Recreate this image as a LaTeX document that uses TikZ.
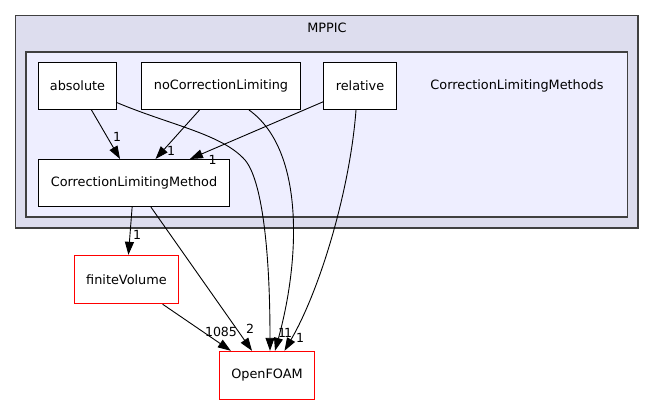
\documentclass[tikz,border=0pt]{standalone}
\usepackage{fontspec}
\setmainfont{DejaVu Sans}
\usetikzlibrary{arrows.meta}
\definecolor{outerfill}{HTML}{DDDDEE}
\definecolor{innerfill}{HTML}{EEEEFF}
\definecolor{clusterline}{HTML}{404040}
\tikzset{
  dirbox/.style={draw=black, fill=white, line width=1bp, minimum height=47bp, inner sep=0pt, font=\fontsize{12.9}{15}\selectfont},
  extbox/.style={draw=red, fill=white, line width=1.4bp, minimum height=48bp, inner sep=0pt, font=\fontsize{12.9}{15}\selectfont},
  dep/.style={draw=black, line width=0.9bp, -{Triangle[length=13bp,width=9bp]}},
  lbl/.style={inner sep=0pt, font=\fontsize{12.6}{15}\selectfont},
  ttl/.style={inner sep=0pt, font=\fontsize{12.9}{15}\selectfont}
}
\begin{document}
\begin{tikzpicture}[x=1bp,y=-1bp]
\useasboundingbox (0,0) rectangle (655,404);
\fill[white] (0,0) rectangle (655,404);
% clusters
\draw[fill=outerfill, draw=clusterline, line width=1.3bp] (15.5,15.5) rectangle (638,228);
\node[ttl] (mppic) at (327,28) {MPPIC};
\draw[fill=innerfill, draw=clusterline, line width=1.3bp] (26,52) rectangle (627.5,217);
\node[ttl] (clmsdir) at (517,86) {CorrectionLimitingMethods};
% nodes
\node[dirbox, minimum width=78bp] (abs) at (77.5,86) {absolute};
\node[dirbox, minimum width=159bp] (nocl) at (221,86) {noCorrectionLimiting};
\node[dirbox, minimum width=73bp] (rel) at (360,86) {relative};
\node[dirbox, minimum width=191bp] (clm) at (134,183) {CorrectionLimitingMethod};
\node[extbox, minimum width=104bp] (fv) at (126.5,279.5) {finiteVolume};
\node[extbox, minimum width=95bp] (of) at (267,375.5) {OpenFOAM};
% edges
\draw[dep] (abs) -- (clm);
\draw[dep] (nocl) -- (clm);
\draw[dep] (rel) -- (clm);
\draw[dep] (clm) -- (fv);
\draw[dep] (fv) -- (of);
\draw[dep] (clm) -- ([xshift=-15bp]of.north);
\draw[dep] (abs) .. controls (170,125) and (222,134) .. (245,160)
  .. controls (262,180) and (270,250) .. ([xshift=3bp]of.north);
\draw[dep] ([xshift=28bp]nocl.south) .. controls (305,150) and (300,260) .. ([xshift=8bp]of.north);
\draw[dep] ([xshift=-4bp]rel.south) .. controls (350,190) and (320,290) .. ([xshift=17.5bp]of.north);
% labels
\node[lbl] (l1) at (117,137) {1};
\node[lbl] (l2) at (171,151) {1};
\node[lbl] (l3) at (212.5,159.5) {1};
\node[lbl] (l4) at (137,235) {1};
\node[lbl] (l5) at (250,329) {2};
\node[lbl] (l6) at (221,332) {1085};
\node[lbl] (l7) at (282,333) {1};
\node[lbl] (l8) at (288,333) {1};
\node[lbl] (l9) at (300,338) {1};
\end{tikzpicture}
\end{document}
